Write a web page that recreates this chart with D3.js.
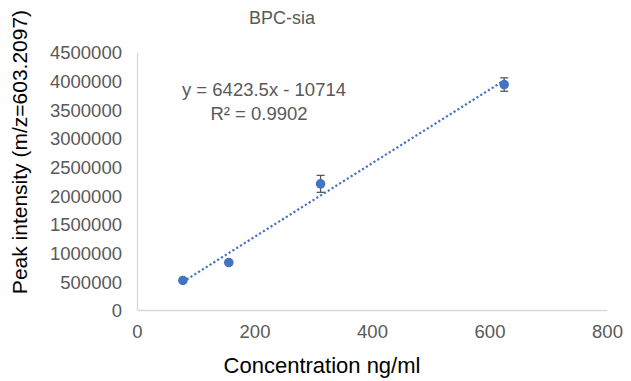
<!DOCTYPE html>
<html>
<head>
<meta charset="utf-8">
<script src="https://cdn.jsdelivr.net/npm/d3@7"></script>
<style>
  body { margin: 0; background: #fff; }
  svg { display: block; }
  .tick text { font-family: "Liberation Sans", Arial, sans-serif; fill: #595959; }
</style>
</head>
<body>
<div id="chart"></div>
<script>
// data
var concentration = [78.125, 156.25, 312.5, 625];
var intensity = [515000, 828000, 2200000, 3932000];
var errorBar = [15000, 20000, 148000, 117000];
var xTicks = [0, 200, 400, 600, 800];
var yTicks = [0, 500000, 1000000, 1500000, 2000000, 2500000, 3000000, 3500000, 4000000, 4500000];
var slope = 6423.5, intercept = -10714;

var width = 631, height = 381,
    margin = {top: 52, right: 24, bottom: 71, left: 137},
    blue = "#4472C4";

var svg = d3.select("#chart").append("svg")
    .attr("width", width)
    .attr("height", height);

var x = d3.scaleLinear().domain([0, 800]).range([margin.left, width - margin.right]);
var y = d3.scaleLinear().domain([0, 4500000]).range([height - margin.bottom, margin.top]);

// axes, no tick marks, light grey lines
var xAxis = svg.append("g")
    .attr("transform", "translate(0," + y(0) + ")")
    .call(d3.axisBottom(x).tickValues(xTicks).tickSize(0).tickPadding(15).tickFormat(d3.format("d")));
xAxis.selectAll("text").style("font-size", "18.5px");

var yAxis = svg.append("g")
    .attr("transform", "translate(" + x(0) + ",0)")
    .call(d3.axisLeft(y).tickValues(yTicks).tickSize(0).tickPadding(15).tickFormat(d3.format("d")));
yAxis.selectAll("text").style("font-size", "18.5px").attr("dy", "0.36em");

svg.selectAll(".domain").attr("stroke", "#D9D9D9").attr("stroke-width", 1.3);

// linear trendline over the data range
var line = d3.line()
    .x(function (d) { return x(d); })
    .y(function (d) { return y(slope * d + intercept); });

svg.append("path")
    .datum([d3.min(concentration), d3.max(concentration)])
    .attr("d", line)
    .attr("fill", "none")
    .attr("stroke", blue)
    .attr("stroke-width", 2.2)
    .attr("stroke-dasharray", "2.2,2.3");

var pts = concentration.map(function (c, i) {
  return {x: c, y: intensity[i], e: errorBar[i]};
});

// error bars
var eb = svg.append("g").attr("stroke", "#595959").attr("stroke-width", 1.3);
eb.selectAll("line.v").data(pts).enter().append("line")
    .attr("class", "v")
    .attr("x1", function (d) { return x(d.x); })
    .attr("x2", function (d) { return x(d.x); })
    .attr("y1", function (d) { return y(d.y - d.e); })
    .attr("y2", function (d) { return y(d.y + d.e); });
[-1, 1].forEach(function (s) {
  eb.selectAll("line.c" + (s + 1)).data(pts).enter().append("line")
      .attr("class", "c" + (s + 1))
      .attr("x1", function (d) { return x(d.x) - 4; })
      .attr("x2", function (d) { return x(d.x) + 4; })
      .attr("y1", function (d) { return y(d.y + s * d.e); })
      .attr("y2", function (d) { return y(d.y + s * d.e); });
});

svg.selectAll("circle.pt").data(pts).enter().append("circle")
    .attr("class", "pt")
    .attr("cx", function (d) { return x(d.x); })
    .attr("cy", function (d) { return y(d.y); })
    .attr("r", 4.8)
    .attr("fill", blue);

// texts
svg.append("text")
    .attr("x", 282).attr("y", 18).attr("dy", "0.36em")
    .attr("text-anchor", "middle")
    .style("font-family", "Liberation Sans, Arial, sans-serif")
    .style("font-size", "18px")
    .attr("fill", "#595959")
    .text("BPC-sia");

var eq = svg.append("g")
    .style("font-family", "Liberation Sans, Arial, sans-serif")
    .style("font-size", "18.5px")
    .attr("fill", "#595959")
    .attr("text-anchor", "middle");
eq.append("text").attr("x", 264).attr("y", 89).attr("dy", "0.36em")
    .text("y = " + slope + "x - " + Math.abs(intercept));
eq.append("text").attr("x", 259).attr("y", 113).attr("dy", "0.36em")
    .text("R\u00b2 = 0.9902");

svg.append("text")
    .attr("x", 322).attr("y", 365).attr("dy", "0.36em")
    .attr("text-anchor", "middle")
    .style("font-family", "Liberation Sans, Arial, sans-serif")
    .style("font-size", "22px")
    .attr("fill", "#000")
    .text("Concentration ng/ml");

svg.append("text")
    .attr("transform", "translate(19,152) rotate(-90)")
    .attr("dy", "0.36em")
    .attr("text-anchor", "middle")
    .style("font-family", "Liberation Sans, Arial, sans-serif")
    .style("font-size", "21px")
    .attr("fill", "#000")
    .text("Peak intensity (m/z=603.2097)");
</script>
</body>
</html>
